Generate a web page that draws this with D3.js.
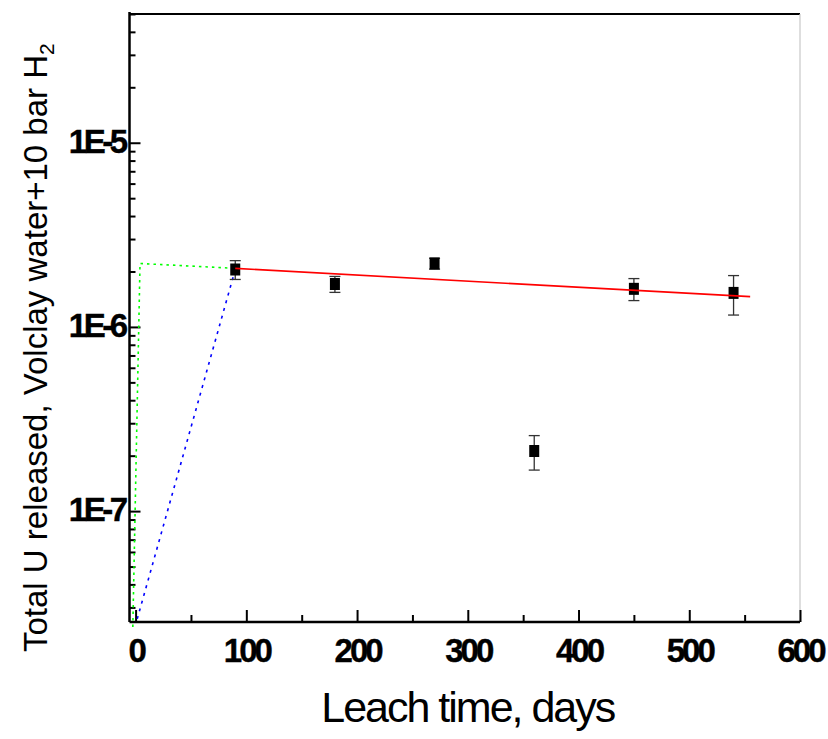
<!DOCTYPE html>
<html>
<head>
<meta charset="utf-8">
<script src="https://cdn.jsdelivr.net/npm/d3@7"></script>
<style>
  html, body { margin: 0; padding: 0; background: #fff; }
  svg { display: block; }
</style>
</head>
<body>
<svg id="chart" width="828" height="739"></svg>
<script>
// ---- data ----
const days = [90, 180, 270, 360, 450, 540];
const uReleased = [2.05e-6, 1.71e-6, 2.21e-6, 2.12e-7, 1.61e-6, 1.53e-6];
const uError = [0.24e-6, 0.17e-6, 0.15e-6, 0.45e-7, 0.22e-6, 0.37e-6];

const fitX = [90, 555];
const fitY = [2.08e-6, 1.46e-6];

const greenX = [-2.5, 4, 90];
const greenY = [2.35e-8, 2.21e-6, 2.08e-6];

const blueX = [90, 1.5];
const blueY = [2.05e-6, 2.6e-8];

const xTicks = [0, 100, 200, 300, 400, 500, 600];
const xMinorTicks = [50, 150, 250, 350, 450, 550];
const yTicks = [1e-7, 1e-6, 1e-5];
const yTickLabels = ["1E-7", "1E-6", "1E-5"];

// ---- layout ----
const svg = d3.select("#chart");
const pLeft = 129.5, pRight = 800, pTop = 14, pBottom = 622;

const x = d3.scaleLinear().domain([-5.5, 600]).range([pLeft, pRight]);
const y = d3.scaleLog().domain([2.5e-8, 5e-5]).range([pBottom, pTop]);

// minor y ticks 2..9 per decade
const yMinorTicks = [];
[1e-8, 1e-7, 1e-6, 1e-5].forEach(d => {
  for (let m = 2; m <= 9; m++) {
    const v = d * m;
    if (v >= 2.5e-8 && v <= 5e-5) yMinorTicks.push(v);
  }
});

// frame: top (black) and right (light gray)
svg.append("line").attr("x1", pLeft).attr("x2", pRight).attr("y1", pTop).attr("y2", pTop)
  .attr("stroke", "#000").attr("stroke-width", 2);
svg.append("line").attr("x1", pRight).attr("x2", pRight).attr("y1", pTop).attr("y2", pBottom)
  .attr("stroke", "#c8c8c8").attr("stroke-width", 1.2);

// x axis
const gx = svg.append("g").attr("transform", `translate(0,${pBottom})`);
gx.call(d3.axisBottom(x).tickValues(xTicks).tickSize(-12).tickFormat(d3.format("d")));
gx.select(".domain").attr("stroke-width", 2.5).attr("d", `M${pLeft},0H${pRight}`);
gx.selectAll(".tick line").attr("stroke-width", 2);
gx.selectAll(".tick text")
  .attr("y", 40).attr("dy", null)
  .attr("font-family", "Liberation Sans, Arial, sans-serif")
  .attr("font-size", 33).attr("font-weight", "bold")
  .attr("letter-spacing", "-3px")
  .attr("stroke", "#000").attr("stroke-width", 0.4)
  .attr("fill", "#000");
const gxm = svg.append("g").attr("transform", `translate(0,${pBottom})`);
gxm.call(d3.axisBottom(x).tickValues(xMinorTicks).tickSize(-7).tickFormat(""));
gxm.select(".domain").remove();
gxm.selectAll(".tick line").attr("stroke-width", 2);

// y axis
const gy = svg.append("g").attr("transform", `translate(${pLeft},0)`);
gy.call(d3.axisLeft(y).tickValues(yTicks).tickSize(-11).tickFormat((d, i) => yTickLabels[i]));
gy.select(".domain").attr("stroke-width", 2.5).attr("d", `M0,${pTop - 2}V${pBottom}`);
gy.selectAll(".tick line").attr("stroke-width", 2);
gy.selectAll(".tick text")
  .attr("x", -5).attr("dy", "9.5")
  .attr("font-family", "Liberation Sans, Arial, sans-serif")
  .attr("font-size", 33).attr("font-weight", "bold")
  .attr("letter-spacing", "-3.5px")
  .attr("stroke", "#000").attr("stroke-width", 0.4)
  .attr("fill", "#000");
const gym = svg.append("g").attr("transform", `translate(${pLeft},0)`);
gym.call(d3.axisLeft(y).tickValues(yMinorTicks).tickSize(-6).tickFormat(""));
gym.select(".domain").remove();
gym.selectAll(".tick line").attr("stroke-width", 2);

// axis titles
svg.append("text")
  .attr("x", (pLeft + pRight) / 2 + 3).attr("y", 722)
  .attr("text-anchor", "middle")
  .attr("font-family", "Liberation Sans, Arial, sans-serif")
  .attr("font-size", 43)
  .attr("letter-spacing", "-2px")
  .attr("fill", "#000")
  .text("Leach time, days");

const yl = svg.append("text")
  .attr("transform", "translate(47,652) rotate(-90)")
  .attr("text-anchor", "start")
  .attr("font-family", "Liberation Sans, Arial, sans-serif")
  .attr("font-size", 33)
  .attr("fill", "#000");
yl.append("tspan").text("Total U released, Volclay water+10 bar H");
yl.append("tspan").attr("font-size", 21).attr("dy", 7).text("2");

// lines
const lineGen = d3.line().x(d => x(d[0])).y(d => y(d[1]));

svg.append("path")
  .datum(greenX.map((v, i) => [v, greenY[i]]))
  .attr("d", lineGen).attr("fill", "none")
  .attr("stroke", "#00ff00").attr("stroke-width", 1.6)
  .attr("stroke-dasharray", "2.5,4");

svg.append("path")
  .datum(blueX.map((v, i) => [v, blueY[i]]))
  .attr("d", lineGen).attr("fill", "none")
  .attr("stroke", "#0000ff").attr("stroke-width", 1.6)
  .attr("stroke-dasharray", "3,5");

// error bars
const eb = svg.append("g").attr("stroke", "#333").attr("stroke-width", 1.3);
days.forEach((d, i) => {
  const cx = x(d);
  const y1 = y(uReleased[i] + uError[i]);
  const y2 = y(uReleased[i] - uError[i]);
  eb.append("line").attr("x1", cx).attr("x2", cx).attr("y1", y1).attr("y2", y2);
  eb.append("line").attr("x1", cx - 5.5).attr("x2", cx + 5.5).attr("y1", y1).attr("y2", y1);
  eb.append("line").attr("x1", cx - 5.5).attr("x2", cx + 5.5).attr("y1", y2).attr("y2", y2);
});

// markers
svg.append("g").selectAll("rect")
  .data(days.map((d, i) => [d, uReleased[i]]))
  .join("rect")
  .attr("x", d => x(d[0]) - 5)
  .attr("y", d => y(d[1]) - 6)
  .attr("width", 10).attr("height", 12)
  .attr("fill", "#000");

// fit line (on top)
svg.append("path")
  .datum(fitX.map((v, i) => [v, fitY[i]]))
  .attr("d", lineGen).attr("fill", "none")
  .attr("stroke", "#ff0000").attr("stroke-width", 1.6);
</script>
</body>
</html>
